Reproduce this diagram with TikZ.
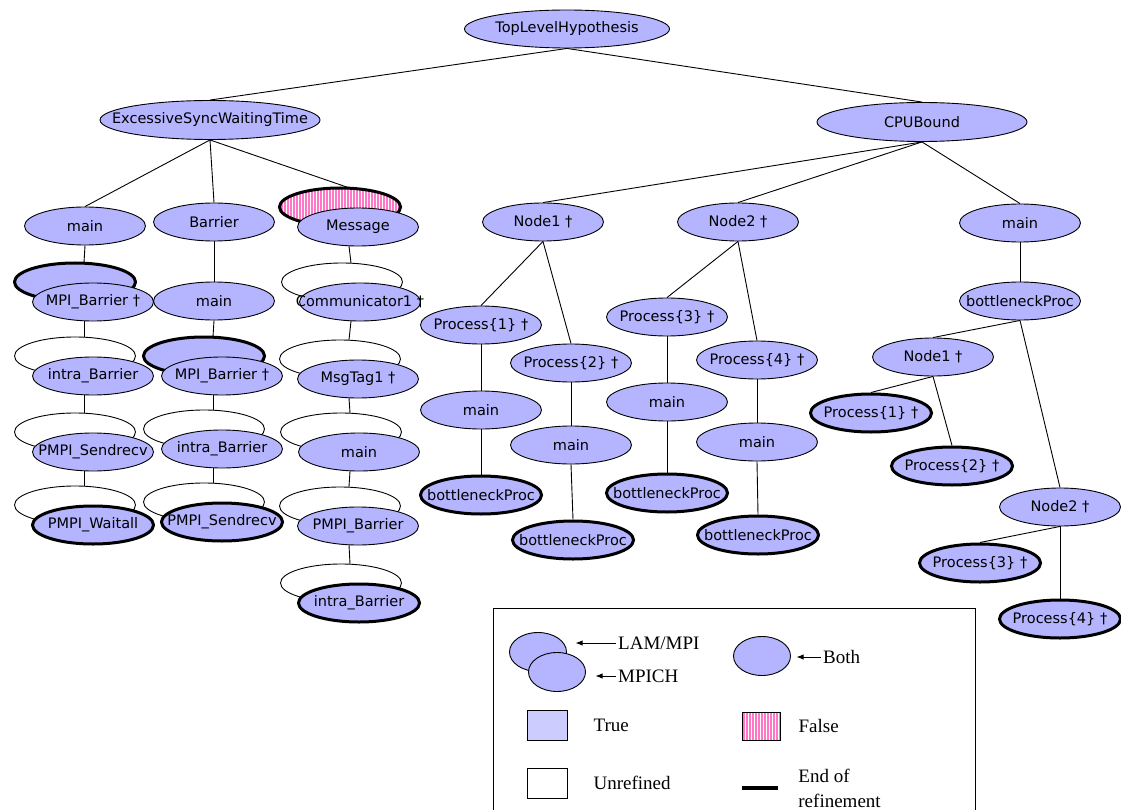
\documentclass[tikz,border=0pt]{standalone}
\usepackage{fontspec}
\usepackage{tikz}
\usetikzlibrary{shapes.geometric,patterns.meta,arrows.meta,positioning}

\newfontfamily\hypfont{DejaVu Sans}
\newfontfamily\legfont{Liberation Serif}

\definecolor{hypfill}{RGB}{180,180,255}
\definecolor{truefill}{RGB}{204,204,255}
\definecolor{stripepink}{RGB}{255,120,200}

\newsavebox{\hypbox}
% two overlapping ellipses: back = LAM/MPI, front = MPICH
\newcommand{\twonode}[6]{%
  \node[hyp,#4] at (#2-9,#3-10) {};
  \node[hyp,#5] at (#2+9,#3+10) {#6};
  \node[pairbox] (#1) at (#2,#3) {};
}

\begin{document}
\begin{tikzpicture}[
    x=1pt, y=-1pt,
    >=Latex,
    hyp/.style={ellipse, draw, fill=hypfill, line width=0.9pt, minimum width=121pt, minimum height=38pt,
      inner sep=0pt, font=\hypfont\fontsize{14.5}{17}\selectfont,
      execute at begin node={\setbox\hypbox=\hbox\bgroup},
      execute at end node={\egroup\makebox[0pt]{\usebox\hypbox}}},
    wide/.style={minimum width=210pt, minimum height=39pt},
    endref/.style={line width=3pt},
    unref/.style={fill=white},
    falsehyp/.style={pattern={Lines[angle=90,distance=3pt,line width=1.5pt]}, pattern color=stripepink},
    pairbox/.style={inner sep=0pt, minimum width=139pt, minimum height=58pt},
    link/.style={line width=0.9pt},
    legell/.style={ellipse, draw, fill=hypfill, line width=0.9pt, minimum width=57pt, minimum height=39pt, inner sep=0pt},
    legbox/.style={rectangle, draw, line width=0.9pt, minimum width=40pt, minimum height=30pt, inner sep=0pt},
    legtext/.style={font=\legfont\fontsize{19}{25}\selectfont, inner sep=2pt, align=left},
    legarrow/.style={->, line width=0.9pt}
]
\useasboundingbox (0,0) rectangle (1121,810);

% top levels
\node[hyp, minimum width=205pt] (top) at (567,29) {TopLevelHypothesis};
\node[hyp, wide, minimum width=220pt] (eswt) at (210,120) {ExcessiveSyncWaitingTime};
\node[hyp, wide] (cpu) at (922,122) {CPUBound};

% ExcessiveSyncWaitingTime branch
\node[hyp] (main1) at (85,226) {main};
\twonode{mpib1}{84}{292}{endref}{}{MPI\_Barrier~†}
\twonode{intra1}{84}{366}{unref}{}{intra\_Barrier}
\twonode{sendrecv1}{84}{442}{unref}{}{PMPI\_Sendrecv}
\twonode{waitall}{84}{515}{unref}{endref}{PMPI\_Waitall}

\node[hyp] (barrier) at (214,222) {Barrier};
\node[hyp] (main2) at (214,301) {main};
\twonode{mpib2}{213}{366}{endref}{}{MPI\_Barrier~†}
\twonode{intra2}{213}{439}{unref}{}{intra\_Barrier}
\twonode{sendrecv2}{213}{512}{unref}{endref}{PMPI\_Sendrecv}

\twonode{message}{349}{217}{falsehyp,endref}{}{Message}
\twonode{comm}{351}{292}{unref}{}{Communicator1~†}
\twonode{msgtag}{349}{369}{unref}{}{MsgTag1~†}
\twonode{main3}{350}{442}{unref}{}{main}
\twonode{pmpib}{349}{516}{unref}{}{PMPI\_Barrier}
\twonode{intra3}{350}{593}{unref}{endref}{intra\_Barrier}

% CPUBound branch
\node[hyp] (n1) at (543,222) {Node1~†};
\node[hyp] (p1) at (481,325) {Process\{1\}~†};
\node[hyp] (m1) at (481,410) {main};
\node[hyp, endref] (b1) at (481,495) {bottleneckProc};
\node[hyp] (p2) at (571,363) {Process\{2\}~†};
\node[hyp] (m2) at (571,445) {main};
\node[hyp, endref] (b2) at (573,540) {bottleneckProc};

\node[hyp] (n2) at (738,222) {Node2~†};
\node[hyp] (p3) at (667,317) {Process\{3\}~†};
\node[hyp] (m3) at (667,402) {main};
\node[hyp, endref] (b3) at (667,493) {bottleneckProc};
\node[hyp] (p4) at (757,360) {Process\{4\}~†};
\node[hyp] (m4) at (757,442) {main};
\node[hyp, endref] (b4) at (758,535) {bottleneckProc};

\node[hyp] (main4) at (1020,223) {main};
\node[hyp] (bp) at (1020,301) {bottleneckProc};
\node[hyp] (rn1) at (933,357) {Node1~†};
\node[hyp, endref] (rp1) at (871,413) {Process\{1\}~†};
\node[hyp, endref] (rp2) at (952,466) {Process\{2\}~†};
\node[hyp] (rn2) at (1060,507) {Node2~†};
\node[hyp, endref] (rp3) at (980,563) {Process\{3\}~†};
\node[hyp, endref] (rp4) at (1060,619) {Process\{4\}~†};

% connectors
\draw[link] (top.south) -- (eswt.north);
\draw[link] (top.south) -- (cpu.north);
\draw[link] (eswt.south) -- (main1.north);
\draw[link] (eswt.south) -- (barrier.north);
\draw[link] (eswt.south) -- (message.north);
\draw[link] (main1.south) -- (mpib1.north);
\draw[link] (mpib1.south) -- (intra1.north);
\draw[link] (intra1.south) -- (sendrecv1.north);
\draw[link] (sendrecv1.south) -- (waitall.north);
\draw[link] (barrier.south) -- (main2.north);
\draw[link] (main2.south) -- (mpib2.north);
\draw[link] (mpib2.south) -- (intra2.north);
\draw[link] (intra2.south) -- (sendrecv2.north);
\draw[link] (message.south) -- (comm.north);
\draw[link] (comm.south) -- (msgtag.north);
\draw[link] (msgtag.south) -- (main3.north);
\draw[link] (main3.south) -- (pmpib.north);
\draw[link] (pmpib.south) -- (intra3.north);
\draw[link] (cpu.south) -- (n1.north);
\draw[link] (cpu.south) -- (n2.north);
\draw[link] (cpu.south) -- (main4.north);
\draw[link] (n1.south) -- (p1.north);
\draw[link] (n1.south) -- (p2.north);
\draw[link] (p1.south) -- (m1.north);
\draw[link] (m1.south) -- (b1.north);
\draw[link] (p2.south) -- (m2.north);
\draw[link] (m2.south) -- (b2.north);
\draw[link] (n2.south) -- (p3.north);
\draw[link] (n2.south) -- (p4.north);
\draw[link] (p3.south) -- (m3.north);
\draw[link] (m3.south) -- (b3.north);
\draw[link] (p4.south) -- (m4.north);
\draw[link] (m4.south) -- (b4.north);
\draw[link] (main4.south) -- (bp.north);
\draw[link] (bp.south) -- (rn1.north);
\draw[link] (bp.south) -- (rn2.north);
\draw[link] (rn1.south) -- (rp1.north);
\draw[link] (rn1.south) -- (rp2.north);
\draw[link] (rn2.south) -- (rp3.north);
\draw[link] (rn2.south) -- (rp4.north);

% legend
\draw[line width=0.9pt] (493,812) |- (975,608) -- (975,812);
\node[legell] (lamell) at (538,652) {};
\node[legell] (mpichell) at (557,672) {};
\node[legtext, anchor=west] (lamtxt) at (616,643) {LAM/MPI};
\node[legtext, anchor=west] (mpichtxt) at (616,676) {MPICH};
\node[legell] (bothell) at (762,656) {};
\node[legtext, anchor=west] (bothtxt) at (821,657) {Both};
\draw[legarrow, shorten >=8.5pt] (lamtxt.west) -- (lamtxt.west -| lamell.east);
\draw[legarrow, shorten >=9.5pt] (mpichtxt.west) -- (mpichtxt.west -| mpichell.east);
\draw[legarrow, shorten >=5.5pt] (bothtxt.west) -- (bothtxt.west -| bothell.east);

\node[legbox, fill=truefill] (truebox) at (547,725) {};
\node[legtext, right=24pt of truebox] (truetxt) {True};
\node[legbox, minimum width=38pt, minimum height=28pt, falsehyp] (falsebox) at (761,726) {};
\node[legtext, right=16pt of falsebox] (falsetxt) {False};
\node[legbox] (unrefbox) at (547,783) {};
\node[legtext, right=24pt of unrefbox] (unreftxt) {Unrefined};
\node[fill=black, minimum width=36pt, minimum height=4pt, inner sep=0pt] (endline) at (760,788) {};
\node[legtext, right=18pt of endline] (endtxt) {End of\\refinement};
\end{tikzpicture}
\end{document}
